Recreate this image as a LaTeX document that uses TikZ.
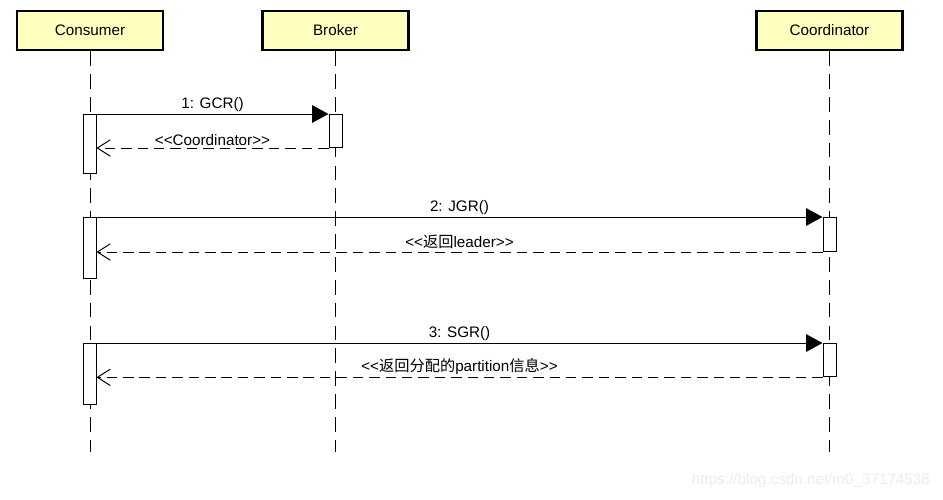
\documentclass[tikz,border=0pt]{standalone}
\usepackage{fontspec}
\setmainfont{Liberation Sans}
\newfontfamily\cjk{Noto Sans CJK SC}
\usetikzlibrary{arrows.meta,positioning}
\definecolor{headfill}{RGB}{255,255,192}

\begin{document}
\begin{tikzpicture}[x=0.03cm, y=-0.03cm,
    actor/.style={rectangle, draw, line width=2.4pt, fill=headfill, minimum width=4.38cm, minimum height=1.17cm, font=\fontsize{13}{15}\selectfont},
    lifeline/.style={line width=0.85pt, dash pattern=on 12.5pt off 7pt},
    bar/.style={rectangle, draw, fill=white, line width=0.85pt, minimum width=0.39cm, inner sep=0pt, anchor=north},
    call/.style={line width=0.85pt, -{Triangle[length=14pt,width=15pt]}},
    reply/.style={line width=0.85pt, dash pattern=on 9pt off 5pt, -{Straight Barb[length=11pt,width=14pt]}},
    msg/.style={font=\fontsize{13}{15}\selectfont, above, inner sep=2pt}]
    \useasboundingbox (0,0) rectangle (943,499);

    \node [actor] (consumer) at (90,30.5) {Consumer};
    \node [actor] (broker) at (335.5,30.5) {Broker};
    \node [actor] (coord) at (829.5,30.5) {Coordinator};

    \draw [lifeline] (consumer.south) -- (consumer.south |- 0,452);
    \draw [lifeline] (broker.south) -- (broker.south |- 0,452);
    \draw [lifeline] (coord.south) -- (coord.south |- 0,452);

    % activation bars
    \node [bar, minimum height=1.77cm] (cbar1) at (89.5,114) {};
    \node [bar, minimum height=0.99cm] (bbar1) at (335.5,114) {};
    \node [bar, minimum height=1.83cm] (cbar2) at (89.5,217) {};
    \node [bar, minimum height=1.02cm] (kbar2) at (829.5,217) {};
    \node [bar, minimum height=1.83cm] (cbar3) at (89.5,343) {};
    \node [bar, minimum height=1.00cm] (kbar3) at (829.5,343) {};

    \draw [call] (cbar1.north east) -- node[msg] {1: GCR()} (bbar1.north west);
    \draw [reply] (bbar1.south west) -- node[msg] {<{}<Coordinator>{}>} (cbar1.east |- bbar1.south);
    \draw [call] (cbar2.north east) -- node[msg] {2: JGR()} (kbar2.north west);
    \draw [reply] (kbar2.south west) -- node[msg] {<{}<{\cjk 返回}leader>{}>} (cbar2.east |- kbar2.south);
    \draw [call] (cbar3.north east) -- node[msg] {3: SGR()} (kbar3.north west);
    \draw [reply] (kbar3.south west) -- node[msg] {<{}<{\cjk 返回分配的}partition{\cjk 信息}>{}>} (cbar3.east |- kbar3.south);

    \node [font=\fontsize{13}{15}\selectfont, text=gray!15, anchor=east] (mark) at (934,481) {https://blog.csdn.net/m0\_37174538};
\end{tikzpicture}
\end{document}
